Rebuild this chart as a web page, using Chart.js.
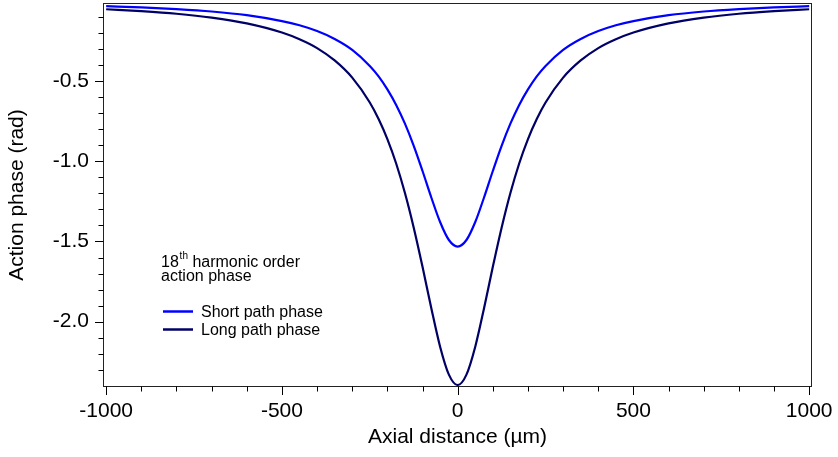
<!DOCTYPE html>
<html>
<head>
<meta charset="utf-8">
<script src="https://cdn.jsdelivr.net/npm/chart.js@4/dist/chart.umd.min.js"></script>
<style>
html,body{margin:0;padding:0;background:#fff;}
#wrap{width:838px;height:457px;}
</style>
</head>
<body>
<div id="wrap"><canvas id="c" width="838" height="457"></canvas></div>
<script>
// ---- data ----
const axialDistance = [-1000,-900,-800,-700,-600,-500,-450,-400,-350,-300,-250,-225,-200,-175,-150,-125,-100,-75,-50,-25,0,
                       25,50,75,100,125,150,175,200,225,250,300,350,400,450,500,600,700,800,900,1000];
const shortPathPhase = [-0.034,-0.041,-0.052,-0.067,-0.090,-0.127,-0.153,-0.189,-0.238,-0.306,-0.406,-0.471,-0.552,-0.649,-0.766,-0.904,-1.061,-1.226,-1.379,-1.491,-1.532,
                        -1.491,-1.379,-1.226,-1.061,-0.904,-0.766,-0.649,-0.552,-0.471,-0.406,-0.306,-0.238,-0.189,-0.153,-0.127,-0.090,-0.067,-0.052,-0.041,-0.034];
const longPathPhase = [-0.053,-0.065,-0.081,-0.105,-0.141,-0.198,-0.240,-0.295,-0.372,-0.479,-0.634,-0.737,-0.862,-1.014,-1.198,-1.414,-1.658,-1.916,-2.156,-2.330,-2.395,
                       -2.330,-2.156,-1.916,-1.658,-1.414,-1.198,-1.014,-0.862,-0.737,-0.634,-0.479,-0.372,-0.295,-0.240,-0.198,-0.141,-0.105,-0.081,-0.065,-0.053];
const seriesLabels = ['Short path phase', 'Long path phase'];
const xTickValues = [-1000, -500, 0, 500, 1000];
const xMinorTicks = [-900,-800,-700,-600,-400,-300,-200,-100,100,200,300,400,600,700,800,900];
const yTickValues = [-2.0, -1.5, -1.0, -0.5];
const yMinorTicks = [-2.3,-2.2,-2.1,-1.9,-1.8,-1.7,-1.6,-1.4,-1.3,-1.2,-1.1,-0.9,-0.8,-0.7,-0.6,-0.4,-0.3,-0.2,-0.1];
const xTitle = 'Axial distance (µm)';
const yTitle = 'Action phase (rad)';
const noteOrder = '18';
const noteSup = 'th';
const noteLine1 = ' harmonic order';
const noteLine2 = 'action phase';

const FONT = '"Liberation Sans", Arial, Helvetica, sans-serif';
const BLUE = '#0000ff';
const NAVY = '#000066';

const decorPlugin = {
  id: 'decor',
  afterDraw(chart) {
    const ctx = chart.ctx;
    const a = chart.chartArea;
    const xs = chart.scales.x, ys = chart.scales.y;
    ctx.save();
    // frame
    ctx.strokeStyle = '#222';
    ctx.lineWidth = 1;
    ctx.strokeRect(a.left + 0.5, a.top + 0.5, a.right - a.left - 1, a.bottom - a.top - 1);
    // ticks
    ctx.strokeStyle = '#000';
    ctx.beginPath();
    const bottomY = a.bottom - 0.5;
    xTickValues.forEach(v => { const p = Math.round(xs.getPixelForValue(v)) + 0.5; ctx.moveTo(p, bottomY); ctx.lineTo(p, bottomY + 8.5); });
    xMinorTicks.forEach(v => { const p = Math.round(xs.getPixelForValue(v)) + 0.5; ctx.moveTo(p, bottomY); ctx.lineTo(p, bottomY + 5); });
    const leftX = a.left + 0.5;
    yTickValues.forEach(v => { const p = Math.round(ys.getPixelForValue(v)) + 0.5; ctx.moveTo(leftX, p); ctx.lineTo(leftX - 8.5, p); });
    yMinorTicks.forEach(v => { const p = Math.round(ys.getPixelForValue(v)) + 0.5; ctx.moveTo(leftX, p); ctx.lineTo(leftX - 5, p); });
    ctx.stroke();
    // annotation + legend
    ctx.fillStyle = '#000';
    ctx.textBaseline = 'alphabetic';
    ctx.textAlign = 'left';
    ctx.font = '16px ' + FONT;
    let x = 161;
    ctx.fillText(noteOrder, x, 267);
    x += ctx.measureText(noteOrder).width + 0.8;
    ctx.font = '10px ' + FONT;
    ctx.fillText(noteSup, x, 259);
    x += ctx.measureText(noteSup).width;
    ctx.font = '16px ' + FONT;
    ctx.fillText(noteLine1, x, 267);
    ctx.fillText(noteLine2, 161, 281);
    const rows = [311.5, 329.5];
    chart.data.datasets.forEach((ds, i) => {
      ctx.strokeStyle = ds.borderColor;
      ctx.lineWidth = 2.5;
      ctx.beginPath();
      ctx.moveTo(163, rows[i]);
      ctx.lineTo(193, rows[i]);
      ctx.stroke();
      ctx.fillStyle = '#000';
      ctx.fillText(ds.label, 201, rows[i] + 5);
    });
    ctx.restore();
  }
};

new Chart(document.getElementById('c'), {
  type: 'line',
  data: {
    datasets: [
      { label: seriesLabels[0], data: axialDistance.map((x, i) => ({x, y: shortPathPhase[i]})),
        borderColor: BLUE, borderWidth: 2.2, pointRadius: 0, cubicInterpolationMode: 'monotone', fill: false },
      { label: seriesLabels[1], data: axialDistance.map((x, i) => ({x, y: longPathPhase[i]})),
        borderColor: NAVY, borderWidth: 2.2, pointRadius: 0, cubicInterpolationMode: 'monotone', fill: false }
    ]
  },
  options: {
    responsive: false,
    devicePixelRatio: 1,
    animation: false,
    layout: { padding: { top: 3, right: 26, left: 0, bottom: 0 } },
    plugins: { legend: { display: false }, tooltip: { enabled: false } },
    scales: {
      x: {
        type: 'linear', min: -1009, max: 1008,
        afterBuildTicks: s => { s.ticks = xTickValues.map(v => ({ value: v })); },
        afterFit: s => { s.height = 70; s.paddingLeft = 0; s.paddingRight = 0; },
        grid: { display: false, drawTicks: false },
        border: { display: false },
        ticks: { color: '#000', font: { family: FONT, size: 21 }, padding: 12, maxRotation: 0, autoSkip: false,
                 callback: v => String(v) },
        title: { display: true, text: xTitle, color: '#000', font: { family: FONT, size: 21 }, padding: { top: 0, bottom: 7 } }
      },
      y: {
        type: 'linear', min: -2.407, max: -0.014,
        afterBuildTicks: s => { s.ticks = yTickValues.map(v => ({ value: v })); },
        afterFit: s => { s.width = 103; s.paddingTop = 0; s.paddingBottom = 0; },
        grid: { display: false, drawTicks: false },
        border: { display: false },
        ticks: { color: '#000', font: { family: FONT, size: 21 }, padding: 14, autoSkip: false,
                 callback: v => v.toFixed(1) },
        title: { display: true, text: yTitle, color: '#000', font: { family: FONT, size: 21 }, padding: { top: 5, bottom: 0 } }
      }
    }
  },
  plugins: [decorPlugin]
});
</script>
</body>
</html>
